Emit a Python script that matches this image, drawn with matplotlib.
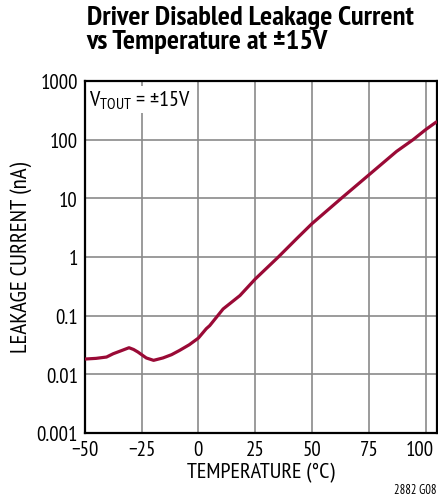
import numpy as np
import matplotlib.pyplot as plt
import matplotlib.transforms as mtransforms
from matplotlib.ticker import FixedLocator, NullLocator

FONTS = ['PT Sans Narrow', 'Archivo Narrow', 'Liberation Sans Narrow', 'Liberation Sans', 'DejaVu Sans']
plt.rcParams['font.family'] = FONTS
plt.rcParams['mathtext.fontset'] = 'custom'
plt.rcParams['mathtext.rm'] = 'PT Sans Narrow'

# data
temp_c = [-50, -45, -40.4, -37.5, -34, -30.5, -28.5, -26.6, -22.9, -19.7, -15.6, -11.8,
          -8.3, -4, 0, 3.5, 5, 10.9, 18.3, 25, 35.2, 43.3, 50, 62.9, 75, 87.2, 94.5,
          100, 104.7]
leak_na = [0.0182, 0.0187, 0.0197, 0.0224, 0.0252, 0.0284, 0.0265, 0.024, 0.019, 0.0173,
           0.019, 0.0216, 0.0255, 0.0319, 0.0414, 0.060, 0.0676, 0.13, 0.22, 0.42, 1.0,
           2.06, 3.7, 10, 25, 63, 100, 148, 200]
x_ticks = [-50, -25, 0, 25, 50, 75, 100]
x_labels = ['\u221250', '\u221225', '0', '25', '50', '75', '100']
y_ticks = [0.001, 0.01, 0.1, 1, 10, 100, 1000]
y_labels = ['0.001', '0.01', '0.1', '1', '10', '100', '1000']

fig = plt.figure(figsize=(4.38, 5.02), dpi=100)
ax = fig.add_axes([0.1934, 0.1355, 0.8043, 0.7012])

ax.plot(temp_c, leak_na, color='#9a0a36', lw=2.3, solid_joinstyle='round',
        solid_capstyle='round', zorder=3)
ax.set_yscale('log')
ax.set_xlim(-50, 105)
ax.set_ylim(0.001, 1000)

ax.xaxis.set_major_locator(FixedLocator(x_ticks))
ax.set_xticklabels(x_labels, fontsize=15)
ax.yaxis.set_major_locator(FixedLocator(y_ticks))
ax.yaxis.set_minor_locator(NullLocator())
ax.set_yticklabels(y_labels, fontsize=15)
ax.tick_params(length=0, pad=5)

# last x label sits flush with the right edge, like the original
last = ax.get_xticklabels()[-1]
last.set_transform(last.get_transform() + mtransforms.ScaledTranslation(-4 / 72, 0, fig.dpi_scale_trans))

ax.grid(True, color='#8a8a8a', lw=1.2)
ax.set_axisbelow(True)
for s in ax.spines.values():
    s.set_linewidth(1.6)

ax.set_xlabel('TEMPERATURE (\u00b0C)', fontsize=16, labelpad=2)
ax.set_ylabel('LEAKAGE CURRENT (nA)', fontsize=16.5, labelpad=3)

ax.text(0.012, 0.98, 'V$_{\\mathrm{TOUT}}$ = \u00b115V', transform=ax.transAxes,
        fontsize=16, va='top', ha='left',
        bbox=dict(facecolor='white', edgecolor='none', pad=1.5))

fig.text(0.198, 0.988, 'Driver Disabled Leakage Current\nvs Temperature at \u00b115V',
         fontsize=20.5, fontweight='bold', va='top', ha='left', linespacing=1.0)
fig.text(0.997, 0.01, '2882 G08', fontsize=9, ha='right', va='bottom')

fig.savefig('out.png', dpi=100)
